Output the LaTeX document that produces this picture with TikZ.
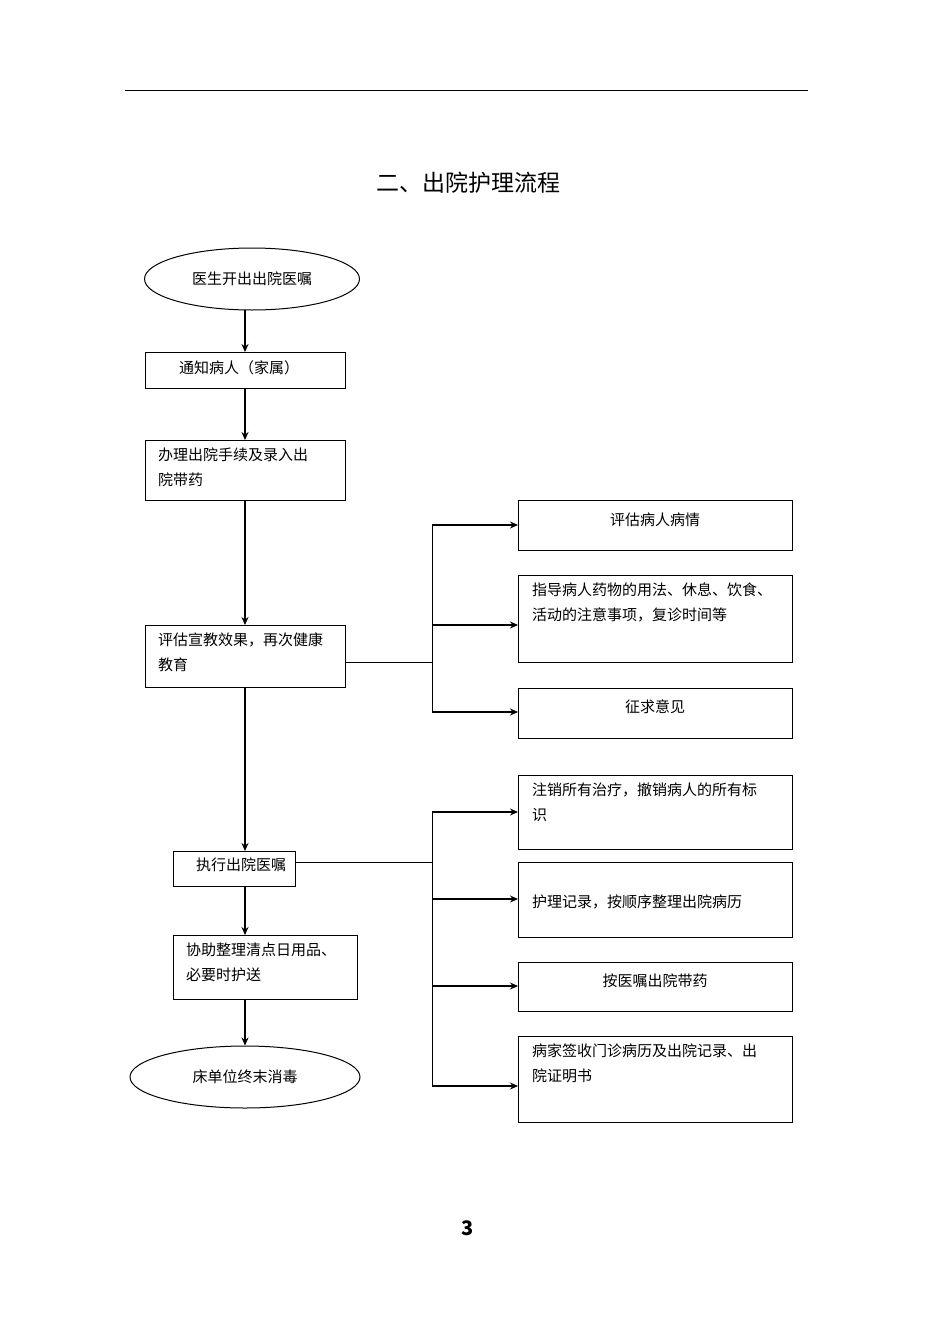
\documentclass[tikz,border=0pt]{standalone}
\usepackage{fontspec}
\setmainfont{Noto Sans CJK SC}
\usetikzlibrary{shapes.geometric,arrows.meta}
\begin{document}
\begin{tikzpicture}[x=1pt,y=-1pt,
  every node/.style={font=\fontsize{15}{25}\selectfont},
  box/.style={draw,line width=1pt,anchor=north west,inner sep=0pt},
  ell/.style={draw,ellipse,line width=1pt,inner sep=0pt},
  txt/.style={anchor=north west,align=left,inner sep=0pt},
  arr/.style={line width=1.2pt,-{Stealth[length=8pt,width=7pt]}},
  ln/.style={line width=0.8pt}]
\useasboundingbox (0,0) rectangle (950,1344);
\draw[line width=1pt] (125,90) -- (808,90);
\node[font=\fontsize{23}{28}\selectfont] (title) at (468,183) {二、出院护理流程};
% main column
\node[ell,minimum width=215pt,minimum height=62pt] (e1) at (252,279) {医生开出出院医嘱};
\node[box,minimum width=200pt,minimum height=36pt] (b2) at (145,352) {};
\node[txt] at (179,360) {通知病人（家属）};
\node[box,minimum width=200pt,minimum height=60pt] (b3) at (145,440) {};
\node[txt,text width=190pt] at (158,448) {办理出院手续及录入出\\院带药};
\node[box,minimum width=200pt,minimum height=62pt] (b4) at (145,625) {};
\node[txt,text width=190pt] at (158,633) {评估宣教效果，再次健康\\教育};
\node[box,minimum width=122pt,minimum height=35pt] (b5) at (173,851) {};
\node[txt] at (196,858) {执行出院医嘱};
\node[box,minimum width=184pt,minimum height=64pt] (b6) at (173,935) {};
\node[txt,text width=180pt] at (186,943) {协助整理清点日用品、\\必要时护送};
\node[ell,minimum width=230pt,minimum height=62pt] (e7) at (245,1077) {床单位终末消毒};
\draw[arr] (245,310) -- (b2.north west -| 245,352);
\draw[arr] (245,388) -- (245,440);
\draw[arr] (245,500) -- (245,625);
\draw[arr] (245,687) -- (245,851);
\draw[arr] (245,886) -- (245,935);
\draw[arr] (245,999) -- (e7.north);
% right boxes
\node[box,minimum width=274pt,minimum height=50pt] (r1) at (518,500) {};
\node at (655,520) {评估病人病情};
\node[box,minimum width=274pt,minimum height=87pt] (r2) at (518,575) {};
\node[txt,text width=265pt] at (532,583) {指导病人药物的用法、休息、饮食、\\活动的注意事项，复诊时间等};
\node[box,minimum width=274pt,minimum height=50pt] (r3) at (518,688) {};
\node at (655,707) {征求意见};
\node[box,minimum width=274pt,minimum height=74pt] (r4) at (518,775) {};
\node[txt,text width=265pt] at (532,783) {注销所有治疗，撤销病人的所有标\\识};
\node[box,minimum width=274pt,minimum height=75pt] (r5) at (518,862) {};
\node[txt] at (532,895) {护理记录，按顺序整理出院病历};
\node[box,minimum width=274pt,minimum height=49pt] (r6) at (518,962) {};
\node at (655,981) {按医嘱出院带药};
\node[box,minimum width=274pt,minimum height=86pt] (r7) at (518,1036) {};
\node[txt,text width=265pt] at (532,1044) {病家签收门诊病历及出院记录、出\\院证明书};
% branches
\coordinate (j1) at (432,662);
\draw[ln] (345,662) -- (j1);
\draw[ln] (432,525) -- (432,712);
\draw[arr] (432,525) -- (518,525);
\draw[arr] (432,625) -- (518,625);
\draw[arr] (432,712) -- (518,712);
\coordinate (j2) at (432,862);
\draw[ln] (295,862) -- (j2);
\draw[ln] (432,812) -- (432,1086);
\draw[arr] (432,812) -- (518,812);
\draw[arr] (432,899) -- (518,899);
\draw[arr] (432,986) -- (518,986);
\draw[arr] (432,1086) -- (518,1086);
\node[font=\fontsize{20}{24}\selectfont\bfseries] (pg) at (468,1228) {3};
\end{tikzpicture}
\end{document}
